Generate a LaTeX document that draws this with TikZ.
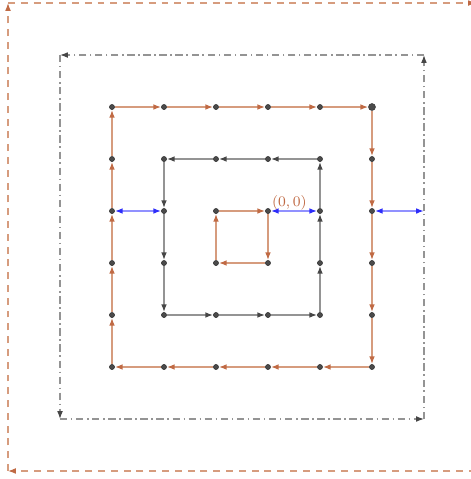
\documentclass[tikz,border=0pt]{standalone}
\usepackage{tikz}
\usetikzlibrary{arrows.meta}

\definecolor{rustline}{RGB}{214,156,126}
\definecolor{rusttip}{RGB}{192,106,68}
\definecolor{slateline}{RGB}{148,148,148}
\definecolor{slatetip}{RGB}{70,70,70}
\definecolor{linkline}{RGB}{145,145,255}
\definecolor{linktip}{RGB}{45,45,250}
\definecolor{dotfill}{RGB}{75,75,75}

\begin{document}
\begin{tikzpicture}[x=1cm, y=1cm,
    dot/.style={shape=circle, fill=dotfill, draw=black!80, line width=0.3pt, inner sep=0pt, minimum size=2.8pt},
    bigdot/.style={dot, minimum size=3.8pt},
    rustedge/.style={color=rustline, line width=0.8pt, -{Latex[length=1.5mm, width=1.1mm, color=rusttip]}},
    slateedge/.style={color=slateline, line width=0.8pt, -{Latex[length=1.5mm, width=1.1mm, color=slatetip]}},
    linkedge/.style={color=linkline, line width=0.8pt, {Latex[length=1.5mm, width=1.1mm, color=linktip]}-{Latex[length=1.5mm, width=1.1mm, color=linktip]}},
    dashdotline/.style={color=slateline, line width=0.6pt, dash pattern=on 4pt off 2pt on 0.8pt off 2pt},
    dashdotedge/.style={dashdotline, -{Latex[length=1.5mm, width=1.1mm, color=slatetip]}},
    dashededge/.style={color=rustline, line width=0.6pt, dash pattern=on 3.8pt off 3.2pt, -{Latex[length=1.5mm, width=1.1mm, color=rusttip]}}]

    \clip (-5.154,-5.154) rectangle (3.904,4.058);

    % grid points of the three inner rings
    \foreach \x in {-3,...,2} {
        \foreach \y in {-3,...,2} {
            \node (n\x\y) at (\x,\y) [dot] {};
        }
    }
    \node (n22) at (2,2) [bigdot] {};

    % corners of the two outer rings
    \coordinate (d30) at (3,0);
    \coordinate (d33) at (3,3);
    \coordinate (d-43) at (-4,3);
    \coordinate (d-4-4) at (-4,-4);
    \coordinate (d3-4) at (3,-4);
    \coordinate (e4-5) at (4,-5);
    \coordinate (e-5-5) at (-5,-5);
    \coordinate (e-54) at (-5,4);
    \coordinate (e44) at (4,4);

    % ring 1
    \path[rustedge] (n00) edge (n0-1) (n0-1) edge (n-1-1) (n-1-1) edge (n-10) (n-10) edge (n00);

    % ring 2
    \path[slateedge] (n10) edge (n11) (n11) edge (n01) (n01) edge (n-11) (n-11) edge (n-21);
    \path[slateedge] (n-21) edge (n-20) (n-20) edge (n-2-1) (n-2-1) edge (n-2-2);
    \path[slateedge] (n-2-2) edge (n-1-2) (n-1-2) edge (n0-2) (n0-2) edge (n1-2);
    \path[slateedge] (n1-2) edge (n1-1) (n1-1) edge (n10);

    % ring 3
    \path[rustedge] (n-30) edge (n-31) (n-31) edge (n-32);
    \path[rustedge] (n-32) edge (n-22) (n-22) edge (n-12) (n-12) edge (n02) (n02) edge (n12) (n12) edge (n22);
    \path[rustedge] (n22) edge (n21) (n21) edge (n20) (n20) edge (n2-1) (n2-1) edge (n2-2) (n2-2) edge (n2-3);
    \path[rustedge] (n2-3) edge (n1-3) (n1-3) edge (n0-3) (n0-3) edge (n-1-3) (n-1-3) edge (n-2-3) (n-2-3) edge (n-3-3);
    \path[rustedge] (n-3-3) edge (n-3-2) (n-3-2) edge (n-3-1) (n-3-1) edge (n-30);

    % ring 4
    \path[dashdotedge] (d30) edge (d33) (d33) edge (d-43) (d-43) edge (d-4-4) (d-4-4) edge (d3-4);
    \draw[dashdotline] (d3-4) -- (d30);

    % ring 5
    \path[dashededge] (e4-5) edge (e-5-5) (e-5-5) edge (e-54) (e-54) edge (e44);

    % links between rings
    \path[linkedge] (n-30) edge (n-20);
    \path[linkedge] (n00) edge (n10);
    \path[linkedge] (n20) edge (d30);

    \node (olabel) at (n00.east) [anchor=south west, inner sep=0.5pt, text=rusttip, font=\footnotesize] {$(0,0)$};

\end{tikzpicture}
\end{document}
